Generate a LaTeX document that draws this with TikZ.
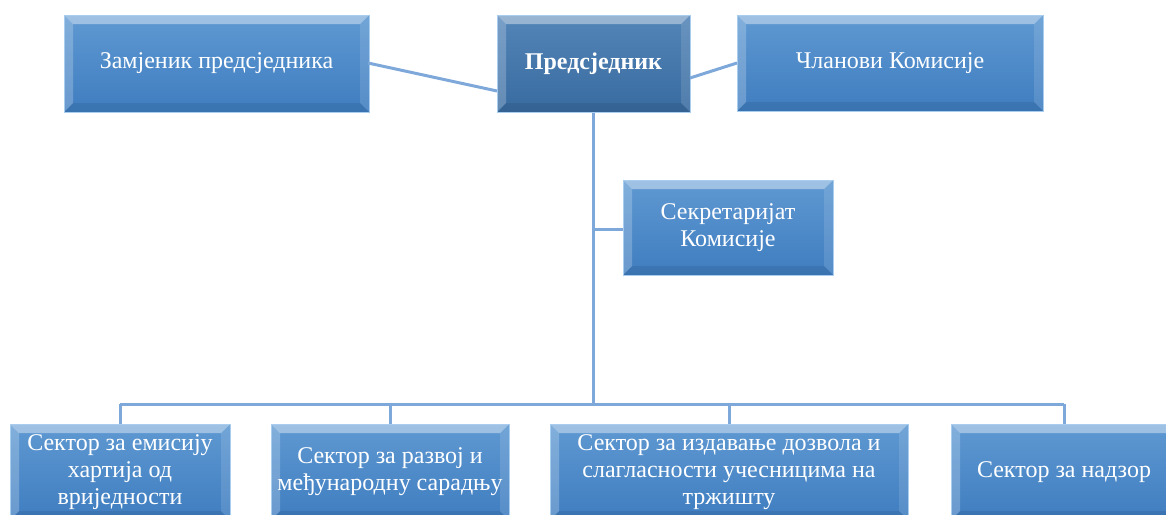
\documentclass[tikz,border=0pt]{standalone}
\usepackage{fontspec}
\setmainfont{Liberation Serif}
\usetikzlibrary{calc}
\definecolor{linec}{HTML}{7EA8DA}
\definecolor{boxtop}{HTML}{5F99D2}
\definecolor{boxbot}{HTML}{3F7DC0}
\definecolor{prestop}{HTML}{5485B8}
\definecolor{presbot}{HTML}{386BA0}
\definecolor{edgec}{HTML}{A9CDEE}
\tikzset{
  bevelpic/.style={path picture={
    \coordinate (pnw) at (path picture bounding box.north west);
    \coordinate (pse) at (path picture bounding box.south east);
    \coordinate (pne) at (pnw -| pse);
    \coordinate (psw) at (pnw |- pse);
    \fill[white,opacity=0.40] (pnw) -- (pne) -- ([xshift=-9pt,yshift=-9pt]pne) -- ([xshift=9pt,yshift=-9pt]pnw) -- cycle;
    \fill[white,opacity=0.22] (pnw) -- ([xshift=9pt,yshift=-9pt]pnw) -- ([xshift=9pt,yshift=9pt]psw) -- (psw) -- cycle;
    \fill[white,opacity=0.12] (pne) -- ([xshift=-9pt,yshift=-9pt]pne) -- ([xshift=-9pt,yshift=9pt]pse) -- (pse) -- cycle;
    \fill[black,opacity=0.08] (psw) -- ([xshift=9pt,yshift=9pt]psw) -- ([xshift=-9pt,yshift=9pt]pse) -- (pse) -- cycle;
  }},
  box/.style={rectangle, inner sep=0pt, draw=edgec, line width=1pt,
    top color=boxtop, bottom color=boxbot, text=white, align=center,
    font=\fontsize{24}{27}\selectfont, bevelpic},
  pres/.style={box, top color=prestop, bottom color=presbot,
    font=\fontsize{24}{27}\selectfont\bfseries},
  conn/.style={draw=linec, line width=3pt},
}
\begin{document}
\begin{tikzpicture}[x=1pt,y=-1pt]
\useasboundingbox (0,0) rectangle (1166,514);
\clip (0,0) rectangle (1166,514);
% nodes
\node[box, minimum width=305, minimum height=97] (zam) at (216.5,63.5) {Замјеник предсједника};
\node[pres, minimum width=193, minimum height=97] (pred) at (593.5,63.5) {Предсједник};
\node[box, minimum width=306, minimum height=96] (clan) at (890,63) {Чланови Комисије};
\node[box, minimum width=210, minimum height=95] (sek) at (728,227.5) {Секретаријат\\Комисије};
\node[box, minimum width=220, minimum height=96] (s1) at (120,472) {Сектор за емисију\\хартија од\\вриједности};
\node[box, minimum width=238, minimum height=96] (s2) at (390,472) {Сектор за развој и\\међународну сарадњу};
\node[box, minimum width=358, minimum height=96] (s3) at (729,472) {Сектор за издавање дозвола и\\слагласности учесницима на\\тржишту};
\node[box, minimum width=226, minimum height=96] (s4) at (1064,472) {Сектор за надзор};
% connector points
\coordinate (busL) at (120,404);
\coordinate (busR) at (1064,404);
\coordinate (busM) at (593.5,404);
\coordinate (secJ) at (593.5,229);
\coordinate (presL) at (497,91);
\coordinate (presR) at (690,78);
\coordinate (zamR) at (368,63);
\coordinate (clR) at (737,63);
% connectors
\draw[conn] (zamR) -- (presL);
\draw[conn] (presR) -- (clR);
\draw[conn] (pred.south) -- (busM);
\draw[conn] (secJ) -- (secJ -| sek.west);
\draw[conn] (busL) -- (busR);
\draw[conn] (busL) -- (s1.north);
\draw[conn] (s2.north |- busL) -- (s2.north);
\draw[conn] (s3.north |- busL) -- (s3.north);
\draw[conn] (busR) -- (s4.north);
\end{tikzpicture}
\end{document}
